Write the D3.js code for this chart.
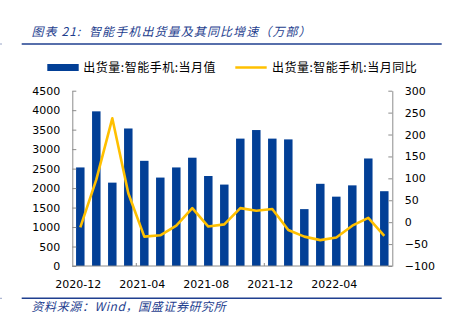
<!DOCTYPE html>
<meta charset="utf-8">
<script src="https://d3js.org/d3.v7.min.js"></script>
<style>
  body { margin: 0; background: #fff; }
  svg text { font-family: "DejaVu Sans", sans-serif; }
  .cjk { font-family: "Noto Sans CJK SC", sans-serif; }
</style>
<div id="my_dataviz"></div>
<script>

// data
var months = ["2020-12", "2021-01", "2021-02", "2021-03", "2021-04", "2021-05", "2021-06",
  "2021-07", "2021-08", "2021-09", "2021-10", "2021-11", "2021-12", "2022-01",
  "2022-02", "2022-03", "2022-04", "2022-05", "2022-06", "2022-07"];
var shipments = [2530, 3970, 2140, 3530, 2700, 2270, 2530, 2780, 2310, 2090,
  3270, 3490, 3270, 3250, 1460, 2110, 1780, 2070, 2760, 1920];
var yoy = [-12, 97, 237, 66, -33, -30, -8, 32, -10, -5,
  32, 26, 30, -18, -33, -41, -35, -8, 10, -31];
var leftTicks = [0, 500, 1000, 1500, 2000, 2500, 3000, 3500, 4000, 4500];
var rightTicks = [-100, -50, 0, 50, 100, 150, 200, 250, 300];
var xLabels = ["2020-12", "2021-04", "2021-08", "2021-12", "2022-04"];

var W = 450, H = 324;
var blue = "#023f96", gold = "#ffc000", titleBlue = "#1f3f8f", axisGrey = "#8c8c8c";

// plot box
var pLeft = 72.3, pRight = 392.3, pTop = 90.7, pBottom = 266;

var svg = d3.select("#my_dataviz")
  .append("svg")
    .attr("width", W)
    .attr("height", H);

// title + rules
svg.append("text")
  .attr("class", "cjk")
  .attr("x", 31.5).attr("y", 36)
  .attr("fill", titleBlue)
  .attr("font-size", 12)
  .attr("font-style", "italic")
  .attr("letter-spacing", 1.1)
  .attr("xml:space", "preserve")
  .text("图表 21:  智能手机出货量及其同比增速（万部）");

[44, 298.3].forEach(function(yy) {
  svg.append("line")
    .attr("x1", 21.7).attr("x2", 441.7)
    .attr("y1", yy).attr("y2", yy)
    .attr("stroke", titleBlue).attr("stroke-width", 1.4);
  svg.append("line")
    .attr("x1", 0).attr("x2", 2)
    .attr("y1", yy).attr("y2", yy)
    .attr("stroke", "#9aa6c8").attr("stroke-width", 1);
});

svg.append("text")
  .attr("class", "cjk")
  .attr("x", 31.5).attr("y", 311)
  .attr("fill", titleBlue)
  .attr("font-size", 12)
  .attr("font-style", "italic")
  .attr("letter-spacing", 0.6)
  .text("资料来源：Wind，国盛证券研究所");

// legend
var legend = svg.append("g");
legend.append("rect")
  .attr("x", 47.3).attr("y", 64).attr("width", 31.4).attr("height", 7)
  .attr("fill", blue);
legend.append("text")
  .attr("class", "cjk")
  .attr("x", 83.3).attr("y", 72)
  .attr("font-size", 12).attr("letter-spacing", 0.5)
  .text("出货量:智能手机:当月值");
legend.append("line")
  .attr("x1", 235.3).attr("x2", 266.7)
  .attr("y1", 67.5).attr("y2", 67.5)
  .attr("stroke", gold).attr("stroke-width", 2.5);
legend.append("text")
  .attr("class", "cjk")
  .attr("x", 272).attr("y", 72)
  .attr("font-size", 12).attr("letter-spacing", 0.5)
  .text("出货量:智能手机:当月同比");

// scales
var x = d3.scaleBand()
  .domain(months)
  .range([pLeft, pRight])
  .paddingInner(0.47)
  .paddingOuter(0.235);
var step = x.step();

var yL = d3.scaleLinear().domain([0, 4500]).range([pBottom, pTop]);
var yR = d3.scaleLinear().domain([-100, 300]).range([pBottom, pTop]);

// bars
svg.selectAll(".bar")
  .data(shipments)
  .enter()
  .append("rect")
    .attr("class", "bar")
    .attr("x", function(d, i) { return x(months[i]); })
    .attr("width", x.bandwidth())
    .attr("y", function(d) { return yL(d); })
    .attr("height", function(d) { return yL(0) - yL(d); })
    .attr("fill", blue);

// yoy line
var line = d3.line()
  .x(function(d, i) { return x(months[i]) + x.bandwidth() / 2; })
  .y(function(d) { return yR(d); });
svg.append("path")
  .datum(yoy)
  .attr("d", line)
  .attr("fill", "none")
  .attr("stroke", gold)
  .attr("stroke-width", 2.6)
  .attr("stroke-linejoin", "round");

// axes
var axL = svg.append("g")
  .attr("transform", "translate(" + pLeft + ",0)")
  .call(d3.axisLeft(yL).tickValues(leftTicks).tickFormat(d3.format("d"))
    .tickSize(-4).tickPadding(12).tickSizeOuter(0));
var axR = svg.append("g")
  .attr("transform", "translate(" + pRight + ",0)")
  .call(d3.axisRight(yR).tickValues(rightTicks).tickFormat(d3.format("d"))
    .tickSize(-4).tickPadding(12.5).tickSizeOuter(0));

[axL, axR].forEach(function(ax) {
  ax.select(".domain").attr("stroke", axisGrey);
  ax.selectAll(".tick line").attr("stroke", axisGrey);
  ax.selectAll(".tick text")
    .attr("font-family", "DejaVu Sans")
    .attr("font-size", 11)
    .attr("fill", "#000");
});

// x axis: baseline, a couple of inward ticks, sparse labels
svg.append("line")
  .attr("x1", pLeft).attr("x2", pRight)
  .attr("y1", pBottom).attr("y2", pBottom)
  .attr("stroke", axisGrey);

[4, 12].forEach(function(k) {
  var bx = x(months[k]) - (step - x.bandwidth()) / 2;
  svg.append("line")
    .attr("x1", bx).attr("x2", bx)
    .attr("y1", pBottom).attr("y2", pBottom - 3)
    .attr("stroke", axisGrey);
});

svg.selectAll(".xlab")
  .data(xLabels)
  .enter()
  .append("text")
    .attr("class", "xlab")
    .attr("x", function(d) { return x(d) + x.bandwidth() / 2 - 2; })
    .attr("y", 288)
    .attr("text-anchor", "middle")
    .attr("font-size", 11)
    .text(function(d) { return d; });

</script>
